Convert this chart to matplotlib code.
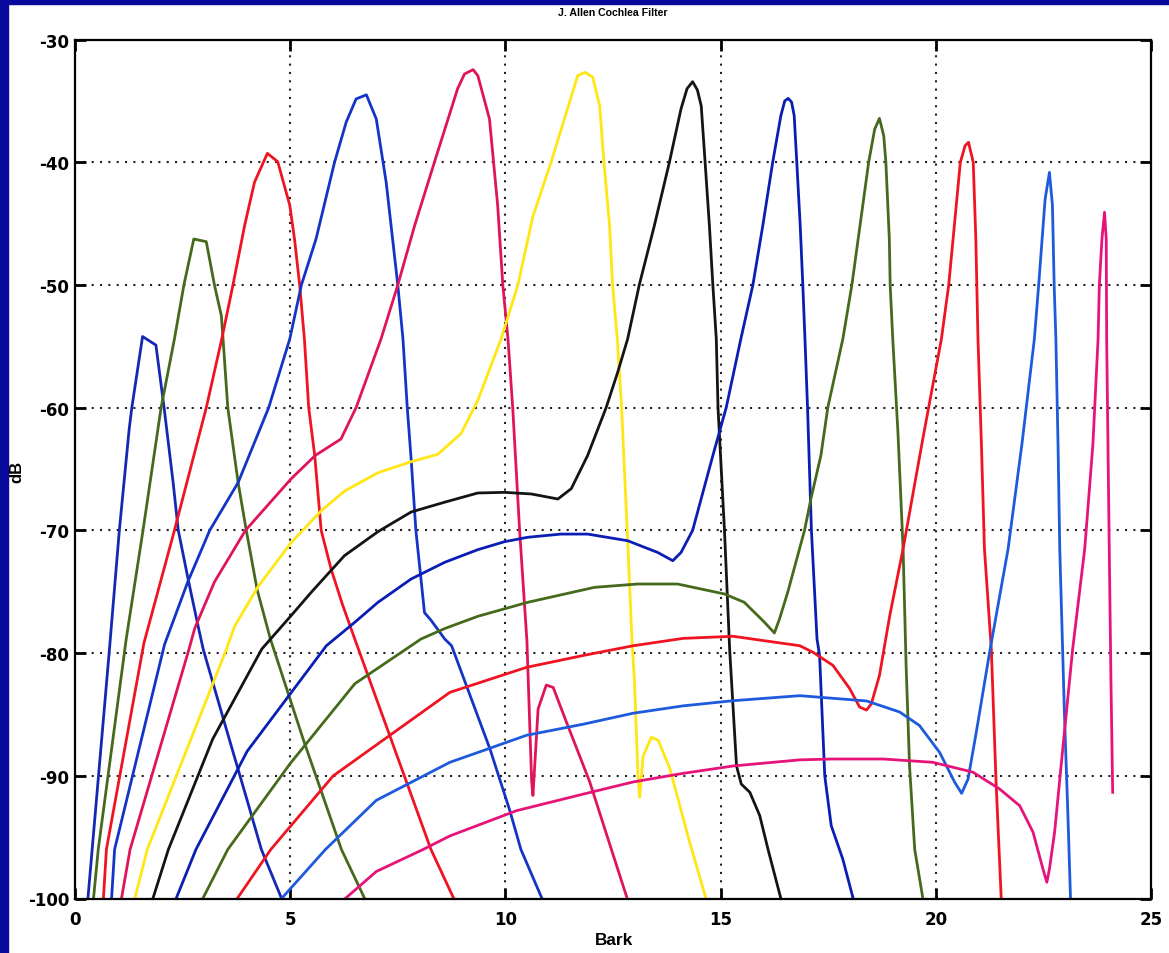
"""J. Allen cochlea filter responses, dB vs Bark (12 filters)."""
import matplotlib
matplotlib.use("Agg")
import matplotlib.pyplot as plt
from matplotlib.patches import Rectangle

plt.rcParams["font.family"] = ["Liberation Sans", "DejaVu Sans"]
plt.rcParams["axes.unicode_minus"] = False

# ---- data: (Bark, dB) per filter, low to high CF ----
bark_a = [0.30, 0.80, 1.03, 1.26, 1.32, 1.57, 1.88, 2.07, 2.28, 2.40, 2.63, 2.86, 2.98, 3.50, 4.00, 4.33, 4.80]
db_a = [-100, -79.7, -70, -61.7, -60, -54.2, -54.9, -60, -66.1, -70, -74, -77.8, -79.7, -86, -92, -96, -100]

bark_b = [0.43, 0.54, 1.19, 1.58, 2.00, 2.31, 2.53, 2.76, 3.05, 3.24, 3.40, 3.44, 3.55, 3.79, 3.98, 4.23, 4.54, 5.30, 6.19, 6.73]
db_b = [-100, -96, -78.85, -70, -60, -54.4, -50, -46.25, -46.47, -50, -52.5, -54.4, -60, -66.1, -70, -74.8, -78.85, -87, -96, -100]

bark_c = [0.66, 0.73, 1.60, 2.31, 3.05, 3.41, 3.67, 3.94, 4.17, 4.47, 4.71, 4.99, 5.10, 5.22, 5.33, 5.43, 5.57, 5.72, 5.95, 6.22, 6.50, 8.27, 8.80]
db_c = [-100, -96, -79.2, -70, -60, -54.4, -50, -45.17, -41.63, -39.27, -39.95, -43.5, -46.25, -50, -54.4, -60, -63.9, -70, -73.15, -76.1, -78.85, -96, -100]

bark_d = [0.85, 0.92, 2.08, 2.62, 3.13, 3.79, 4.50, 4.99, 5.26, 5.60, 6.03, 6.30, 6.53, 6.77, 7.00, 7.23, 7.50, 7.62, 7.72, 7.81, 7.92, 8.12, 8.28, 8.59, 8.75, 9.64, 10.10, 10.36, 10.85]
db_d = [-100, -96, -79.3, -74.2, -70, -66.1, -60, -54.4, -50, -46.25, -40, -36.74, -34.84, -34.5, -36.47, -41.63, -50, -54.4, -60, -64.2, -70, -76.7, -77.36, -78.85, -79.4, -87.8, -92.8, -96, -100]

bark_e = [1.08, 1.28, 2.65, 2.78, 3.24, 3.96, 5.02, 5.58, 6.18, 6.53, 7.11, 7.50, 7.89, 8.35, 8.89, 9.05, 9.25, 9.36, 9.63, 9.82, 9.94, 10.06, 10.17, 10.33, 10.50, 10.61, 10.64, 10.76, 10.95, 11.11, 11.42, 11.96, 12.46, 12.83]
db_e = [-100, -96, -79.67, -78.0, -74.2, -70, -65.8, -63.9, -62.55, -60, -54.4, -50, -45.17, -40, -34.0, -32.8, -32.45, -32.94, -36.47, -43.5, -50, -54.4, -60, -70, -79, -90.5, -91.6, -84.55, -82.6, -82.8, -85.64, -90.5, -95.97, -100]

bark_f = [1.39, 1.68, 3.52, 3.71, 4.25, 5.02, 5.72, 6.26, 7.04, 7.81, 8.43, 8.97, 9.36, 9.90, 10.29, 10.64, 11.06, 11.37, 11.68, 11.85, 12.03, 12.19, 12.29, 12.42, 12.49, 12.60, 12.70, 12.83, 12.94, 13.00, 13.08, 13.12, 13.20, 13.39, 13.55, 13.82, 14.28, 14.66]
db_f = [-100, -96, -79.67, -77.8, -74.6, -71.0, -68.4, -66.8, -65.3, -64.4, -63.8, -62.1, -59.4, -54.4, -50, -44.4, -40, -36.47, -32.94, -32.67, -33.07, -35.4, -40, -45.17, -50, -54.4, -60, -70, -78.85, -82.4, -90.0, -91.75, -88.4, -86.86, -87.1, -89.4, -95.4, -100]

bark_g = [1.81, 2.17, 3.20, 4.34, 5.02, 5.49, 6.26, 7.04, 7.81, 8.59, 9.36, 9.98, 10.60, 11.22, 11.53, 11.91, 12.34, 12.61, 12.84, 13.11, 13.46, 13.81, 14.08, 14.22, 14.35, 14.46, 14.55, 14.64, 14.74, 14.82, 14.90, 14.94, 15.09, 15.21, 15.37, 15.48, 15.68, 15.91, 16.10, 16.40]
db_g = [-100, -96, -87, -79.67, -76.95, -75.04, -72.06, -70.1, -68.5, -67.7, -66.95, -66.9, -67.03, -67.44, -66.6, -63.9, -60, -57.1, -54.4, -50, -45.17, -40, -35.65, -34.0, -33.43, -34.1, -35.4, -40, -45.17, -50, -54.4, -60, -70, -79.67, -89.2, -90.67, -91.35, -93.25, -95.97, -100]

bark_h = [2.35, 2.81, 4.00, 5.84, 6.50, 7.04, 7.81, 8.59, 9.36, 9.98, 10.52, 11.29, 11.91, 12.84, 13.54, 13.89, 14.08, 14.35, 14.82, 15.13, 15.47, 15.75, 15.98, 16.21, 16.40, 16.49, 16.57, 16.65, 16.71, 16.77, 16.85, 16.91, 16.96, 17.02, 17.11, 17.24, 17.30, 17.42, 17.57, 17.84, 18.08]
db_h = [-100, -96, -88, -79.4, -77.49, -75.86, -73.96, -72.6, -71.57, -70.92, -70.56, -70.3, -70.3, -70.84, -71.8, -72.47, -71.8, -70, -63.9, -60, -54.4, -50, -45.17, -40, -36.2, -35.0, -34.79, -35.1, -36.2, -40, -45.17, -50, -54.4, -60, -70, -78.85, -80.2, -90.0, -94.06, -96.8, -100]

bark_i = [2.97, 3.55, 5.00, 6.50, 8.04, 8.59, 9.36, 10.52, 12.07, 13.07, 14.00, 15.09, 15.55, 16.02, 16.25, 16.37, 16.56, 16.95, 17.10, 17.33, 17.49, 17.84, 18.05, 18.44, 18.58, 18.69, 18.79, 18.84, 18.92, 18.94, 19.00, 19.12, 19.24, 19.31, 19.39, 19.51, 19.70]
db_i = [-100, -96, -89, -82.5, -78.85, -78.0, -77.0, -75.86, -74.64, -74.37, -74.37, -75.18, -75.86, -77.49, -78.36, -77.2, -75.04, -70, -67.4, -63.9, -60, -54.4, -50, -40, -37.3, -36.42, -37.83, -40, -46.25, -50, -54.4, -62, -71.5, -81.0, -89.2, -96, -100]

bark_j = [3.77, 4.55, 6.00, 8.71, 10.49, 11.80, 12.97, 14.13, 15.29, 16.84, 17.15, 17.61, 18.00, 18.23, 18.39, 18.50, 18.69, 18.93, 19.24, 19.70, 20.13, 20.30, 20.57, 20.68, 20.76, 20.87, 20.93, 20.98, 21.06, 21.13, 21.29, 21.40, 21.52]
db_j = [-100, -96, -90, -83.2, -81.16, -80.2, -79.4, -78.8, -78.63, -79.4, -79.94, -81.0, -82.9, -84.4, -84.64, -84.15, -81.84, -76.95, -71.5, -62.5, -54.4, -50, -40, -38.65, -38.37, -40, -46.25, -54.4, -63, -71.5, -79.67, -90.5, -100]

bark_k = [4.80, 5.82, 7.00, 8.71, 9.48, 10.49, 11.80, 12.97, 14.13, 15.29, 16.84, 18.39, 19.16, 19.62, 20.09, 20.44, 20.60, 20.75, 20.94, 21.25, 21.68, 22.00, 22.29, 22.39, 22.54, 22.64, 22.71, 22.75, 22.79, 22.84, 22.88, 22.99, 23.07, 23.13]
db_k = [-100, -96, -92, -88.9, -87.95, -86.7, -85.8, -84.9, -84.3, -83.88, -83.47, -83.9, -84.8, -85.9, -88.1, -90.53, -91.43, -90.26, -86.46, -79.94, -71.5, -63, -54.4, -50, -43.0, -40.82, -43.5, -50, -54.4, -63, -71.5, -85.1, -93.25, -100]

bark_l = [6.28, 7.00, 8.09, 8.71, 10.26, 11.80, 12.97, 14.13, 15.29, 16.84, 17.61, 18.77, 19.93, 20.86, 21.48, 21.95, 22.26, 22.49, 22.58, 22.64, 22.76, 22.95, 23.18, 23.46, 23.65, 23.77, 23.80, 23.86, 23.92, 23.96, 23.97, 24.03, 24.07, 24.11]
db_l = [-100, -97.8, -96, -94.9, -92.84, -91.5, -90.5, -89.8, -89.2, -88.7, -88.63, -88.63, -88.9, -89.7, -91.07, -92.44, -94.6, -97.6, -98.68, -97.6, -94.6, -87.8, -79.67, -71.5, -63, -54.4, -50, -46.25, -44.07, -46.25, -54.4, -71.5, -82.4, -91.35]

filters = [
    (bark_a, db_a, "#1428b4"),
    (bark_b, db_b, "#466a1c"),
    (bark_c, db_c, "#f01423"),
    (bark_d, db_d, "#1434c8"),
    (bark_e, db_e, "#e0145a"),
    (bark_f, db_f, "#ffe614"),
    (bark_g, db_g, "#141414"),
    (bark_h, db_h, "#0a1eb4"),
    (bark_i, db_i, "#466a1c"),
    (bark_j, db_j, "#f01423"),
    (bark_k, db_k, "#1e5adc"),
    (bark_l, db_l, "#e6147a"),
]

x_ticks = [0, 5, 10, 15, 20, 25]
y_ticks = [-100, -90, -80, -70, -60, -50, -40, -30]

W, H = 1169, 954
fig = plt.figure(figsize=(W / 100, H / 100), dpi=100, facecolor="white")

# slide-style dark blue frame on the left and top edges
fig.patches.append(Rectangle((0, 0), 8 / W, 1, transform=fig.transFigure,
                             color="#08089c", zorder=-1))
fig.patches.append(Rectangle((0, 1 - 5 / H), 1, 5 / H, transform=fig.transFigure,
                             color="#08089c", zorder=-1))

ax = fig.add_axes([75 / W, 1 - 899.5 / H, (1151 - 75) / W, (899.5 - 40.6) / H])

for bark, db, col in filters:
    ax.plot(bark, db, color=col, lw=2.0, solid_joinstyle="round")

ax.set_xlim(0, 25)
ax.set_ylim(-100, -30)
ax.set_xticks(x_ticks)
ax.set_yticks(y_ticks)
ax.grid(True, color="#222222", linestyle=(0, (1, 3)), lw=1.5)
ax.tick_params(direction="in", length=8, width=2, top=True, right=True)
ax.tick_params(axis="x", pad=8)
ax.tick_params(axis="y", pad=4)
for lab in ax.get_xticklabels() + ax.get_yticklabels():
    lab.set_fontfamily("DejaVu Sans")
    lab.set_fontweight("bold")
    lab.set_fontsize(12)
for sp in ax.spines.values():
    sp.set_linewidth(1.6)

fig.text(613 / W, 1 - 13 / H, "J. Allen Cochlea Filter", fontsize=7.6,
         fontweight="bold", ha="center", va="center")
fig.text(614 / W, 1 - 941 / H, "Bark", fontsize=12.4, fontweight="bold",
         ha="center", va="center")
fig.text(16.5 / W, 1 - 472 / H, "dB", fontsize=12, fontweight="bold",
         ha="center", va="center", rotation=90)

fig.savefig("out.png", dpi=100, facecolor=fig.get_facecolor())
